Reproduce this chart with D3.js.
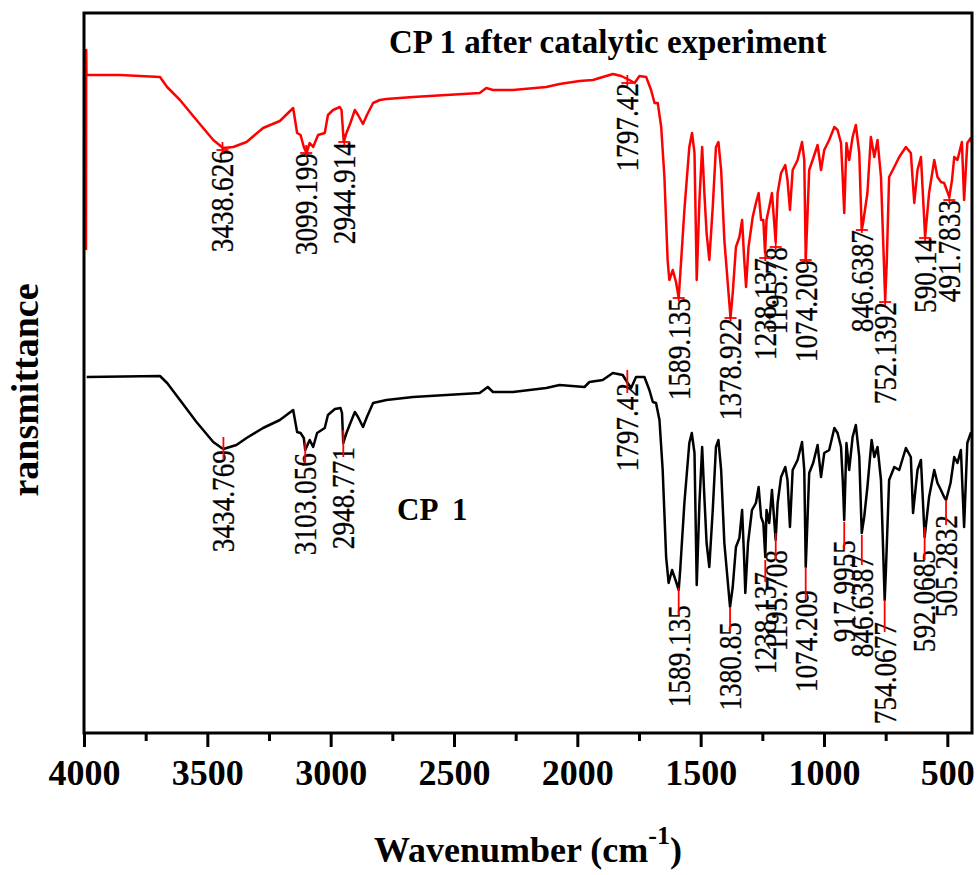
<!DOCTYPE html>
<html>
<head>
<meta charset="utf-8">
<script src="https://cdn.jsdelivr.net/npm/d3@7"></script>
<style>
  body { margin: 0; background: #fff; }
  text { font-family: "Liberation Serif", "Times New Roman", serif; }
</style>
</head>
<body>
<div id="chart"></div>
<script>
// IR spectra (transmittance in arbitrary units)
var redWavenumber = [3992,3991,3990,3854,3692,3663,3611,3544,3476,3436,3395,3341,3274,3206,3152,3136,3122,3109,3098,3085,3071,3051,3024,3011,2990,2963,2956,2947,2936,2920,2902,2889,2869,2853,2828,2801,2774,2666,2531,2396,2369,2342,2261,2126,2072,1991,1937,1856,1822,1789,1768,1748,1721,1701,1687,1674,1660,1647,1634,1627,1613,1600,1589,1579,1566,1546,1535,1525,1516,1505,1494,1485,1476,1465,1451,1438,1428,1417,1404,1379,1370,1357,1343,1332,1324,1316,1306,1289,1276,1265,1255,1246,1239,1233,1222,1211,1196,1188,1174,1157,1148,1138,1127,1107,1089,1080,1074,1060,1046,1026,1012,999,979,958,945,931,925,918,909,898,884,871,857,852,847,841,824,810,796,783,769,752,746,736,715,695,668,648,634,621,607,590,574,553,540,526,513,492,481,472,459,441,432,419,405,400];
var redTransmittance = [48.3,68.3,65.8,65.8,65.6,64.6,63.3,61.3,59.3,58.5,58.6,59.1,60.5,61.2,62.5,60.0,59.8,58.6,58.0,59.0,58.6,59.8,60.0,61.8,62.3,62.6,62.3,59.1,60.0,61.0,62.3,61.8,60.9,61.8,63.0,63.3,63.4,63.6,63.8,64.0,64.5,64.3,64.3,64.6,64.9,65.2,65.3,65.9,65.7,65.3,65.0,65.7,65.6,64.3,63.0,63.0,60.6,55.6,47.3,45.3,46.3,45.1,43.5,47.3,52.3,58.6,60.0,58.0,45.3,53.3,58.6,54.0,50.0,47.3,52.6,58.6,59.1,56.3,49.3,41.5,44.0,48.6,49.6,51.3,47.6,44.6,48.6,51.6,53.0,54.0,51.3,51.3,48.0,51.3,52.6,54.0,49.1,54.0,56.0,56.8,55.3,52.3,56.3,57.3,59.1,57.3,47.3,56.3,57.3,58.8,56.3,58.3,59.3,60.6,60.3,59.0,56.0,52.0,59.0,57.3,59.6,60.8,58.0,54.0,50.3,51.1,54.0,59.6,57.6,59.3,55.6,43.3,46.8,55.6,56.6,57.6,58.6,58.0,53.0,56.3,57.6,49.6,54.0,57.3,55.6,55.1,55.0,53.6,55.3,57.6,57.3,59.1,53.3,59.0,59.5,59.0];

var blackWavenumber = [3989,3692,3663,3611,3544,3476,3442,3435,3422,3382,3341,3274,3206,3152,3136,3122,3109,3103,3085,3071,3055,3024,3011,2983,2960,2954,2949,2936,2920,2902,2889,2869,2853,2828,2774,2666,2531,2396,2363,2342,2261,2126,2072,1971,1951,1897,1856,1816,1796,1782,1762,1728,1708,1694,1681,1667,1654,1640,1630,1616,1602,1589,1583,1566,1546,1536,1525,1516,1505,1494,1485,1476,1465,1451,1438,1428,1417,1404,1381,1370,1357,1343,1332,1324,1319,1308,1292,1276,1265,1255,1246,1238,1233,1222,1211,1196,1188,1174,1157,1148,1138,1127,1107,1089,1080,1074,1060,1044,1026,1012,999,979,958,945,931,924,918,909,898,884,871,857,847,837,824,807,796,783,769,754,749,736,715,695,668,648,639,621,607,592,574,553,540,526,513,505,487,472,459,445,432,419,405,400];
var blackTransmittance = [35.6,35.7,35.0,33.3,31.1,29.1,28.5,28.4,28.5,28.8,29.5,30.5,31.3,32.3,30.1,30.0,29.5,28.3,29.3,28.6,30.0,30.5,31.8,32.4,32.5,32.0,29.0,30.0,31.0,32.1,31.6,30.6,31.6,33.0,33.3,33.6,33.8,34.0,34.6,34.1,34.1,34.5,34.8,34.6,35.1,35.3,36.0,35.8,35.0,34.5,35.6,35.6,34.3,33.1,33.0,31.3,26.3,17.6,15.0,16.3,15.3,14.3,16.3,23.0,29.0,30.0,28.0,14.8,23.0,28.6,23.6,19.0,16.6,22.3,28.6,29.3,26.3,19.0,12.6,14.6,18.6,19.5,22.3,17.6,14.0,19.0,22.3,23.0,24.6,21.6,21.0,17.6,22.3,21.0,24.3,19.3,23.0,25.6,26.6,25.3,20.6,26.3,27.3,29.1,26.3,16.6,26.0,27.0,28.8,25.6,28.0,28.3,30.5,30.0,28.6,25.3,21.3,29.0,26.3,29.6,30.8,27.6,20.0,21.6,24.6,29.3,27.6,28.6,25.3,13.3,16.3,25.3,26.6,26.3,28.5,27.6,22.0,26.3,27.3,19.6,23.6,26.3,25.0,24.3,23.6,23.3,25.0,27.6,27.0,28.3,20.6,29.0,30.0,30.0];

// peak labels (text = wavenumber) and the transmittance where each label starts
var redPeaks = ["3438.626","3099.199","2944.914","1797.42","1589.135","1378.922","1238.137","1195.78","1074.209","846.6387","752.1392","590.14","491.7833"];
var redPeakLabelT = [58.3,58.0,59.1,65.0,43.5,41.5,47.5,48.6,47.3,50.3,43.1,49.5,53.3];
var blackPeaks = ["3434.769","3103.056","2948.771","1797.42","1589.135","1380.85","1238.137","1195.708","1074.209","917.9955","846.6387","754.0677","592.0685","505.2832"];
var blackPeakLabelT = [28.3,28.0,28.6,35.0,12.8,11.1,16.1,18.3,14.3,19.3,17.8,11.1,18.3,21.8];
var blackPeakMarkT = [29.6,29.1,30.3,36.3,14.5,12.6,17.3,20.0,16.6,21.1,19.8,13.3,20.6,23.3];

var majorTicks = [4000,3500,3000,2500,2000,1500,1000,500];
var minorTicks = [3750,3250,2750,2250,1750,1250,750];

var svgWidth = 977;
var svgHeight = 875;
var plot = { left: 84, right: 972, top: 13, bottom: 733 };
var serif = "'Liberation Serif', 'Times New Roman', 'DejaVu Serif', serif";

var svg = d3.select("#chart")
  .append("svg")
  .attr("width", svgWidth)
  .attr("height", svgHeight)
  .style("background", "#fff");

var x = d3.scaleLinear().domain([4000, 400]).range([plot.left, plot.right]);
var y = d3.scaleLinear().domain([0, 72]).range([plot.bottom, plot.top]);

var line = d3.line()
  .x(d => x(d[0]))
  .y(d => y(d[1]));

var redData = redWavenumber.map((w, i) => [w, redTransmittance[i]]);
var blackData = blackWavenumber.map((w, i) => [w, blackTransmittance[i]]);

svg.append("path")
  .datum(redData)
  .attr("d", line)
  .attr("fill", "none")
  .attr("stroke", "#f00")
  .attr("stroke-width", 2.5)
  .attr("stroke-linejoin", "round");

svg.append("path")
  .datum(blackData)
  .attr("d", line)
  .attr("fill", "none")
  .attr("stroke", "#000")
  .attr("stroke-width", 2.5)
  .attr("stroke-linejoin", "round");

// peak labels, rotated and a bit condensed like the original
function peakLabels(names, labelT) {
  svg.append("g")
    .selectAll("text")
    .data(names)
    .enter()
    .append("text")
    .attr("transform", (d, i) => `translate(${x(+d)}, ${y(labelT[i])}) rotate(-90) scale(0.88, 1)`)
    .attr("text-anchor", "end")
    .attr("dy", "0.35em")
    .style("font-family", serif)
    .style("font-size", "31px")
    .attr("fill", "#000")
    .attr("stroke", "#000")
    .attr("stroke-width", 0.3)
    .text(d => d);
}
peakLabels(redPeaks, redPeakLabelT);
peakLabels(blackPeaks, blackPeakLabelT);

// red peak markers
var redMarks = svg.append("g").attr("stroke", "#f00").attr("stroke-width", 1.8);
redPeaks.forEach(function(d, i) {
  var px = x(+d), py = y(redPeakLabelT[i]);
  redMarks.append("line").attr("x1", px).attr("x2", px).attr("y1", py - 8).attr("y2", py + 3);
  redMarks.append("line").attr("x1", px - 6).attr("x2", px + 6).attr("y1", py).attr("y2", py);
});
blackPeaks.forEach(function(d, i) {
  var px = x(+d);
  redMarks.append("line").attr("x1", px).attr("x2", px)
    .attr("y1", y(blackPeakMarkT[i])).attr("y2", y(blackPeakLabelT[i]) + 10);
});

// frame
svg.append("rect")
  .attr("x", plot.left).attr("y", plot.top)
  .attr("width", plot.right - plot.left).attr("height", plot.bottom - plot.top)
  .attr("fill", "none").attr("stroke", "#000").attr("stroke-width", 3);

// x axis
var bottomAxis = d3.axisBottom(x).tickValues(majorTicks).tickSize(14).tickFormat(d3.format("d"));
var axisG = svg.append("g")
  .attr("transform", `translate(0, ${plot.bottom})`)
  .call(bottomAxis);
axisG.select(".domain").remove();
axisG.selectAll("line").attr("stroke-width", 3);
axisG.selectAll("text")
  .attr("y", 52).attr("dy", null)
  .style("font-family", serif)
  .attr("font-size", 36).attr("font-weight", "bold")
  .attr("fill", "#000");

var minorAxis = d3.axisBottom(x).tickValues(minorTicks).tickSize(8).tickFormat("");
var minorG = svg.append("g")
  .attr("transform", `translate(0, ${plot.bottom})`)
  .call(minorAxis);
minorG.select(".domain").remove();
minorG.selectAll("line").attr("stroke-width", 3);

// axis titles
var xTitle = svg.append("text")
  .attr("x", (plot.left + plot.right) / 2)
  .attr("y", 862)
  .attr("text-anchor", "middle")
  .attr("font-size", 36)
  .attr("font-weight", "bold");
xTitle.append("tspan").text("Wavenumber (cm");
xTitle.append("tspan").attr("font-size", 26).attr("dy", -18).text("-1");
xTitle.append("tspan").attr("dy", 18).text(")");

svg.append("text")
  .attr("transform", "translate(38, 390) rotate(-90)")
  .attr("text-anchor", "middle")
  .attr("font-size", 38)
  .attr("font-weight", "bold")
  .text("ransmittance");

// series names
svg.append("text")
  .attr("x", 389).attr("y", 53)
  .attr("font-size", 33).attr("font-weight", "bold")
  .text("CP 1 after catalytic experiment");

svg.append("text")
  .attr("x", 397).attr("y", 520)
  .attr("font-size", 31).attr("font-weight", "bold")
  .style("white-space", "pre")
  .text("CP  1");
</script>
</body>
</html>
